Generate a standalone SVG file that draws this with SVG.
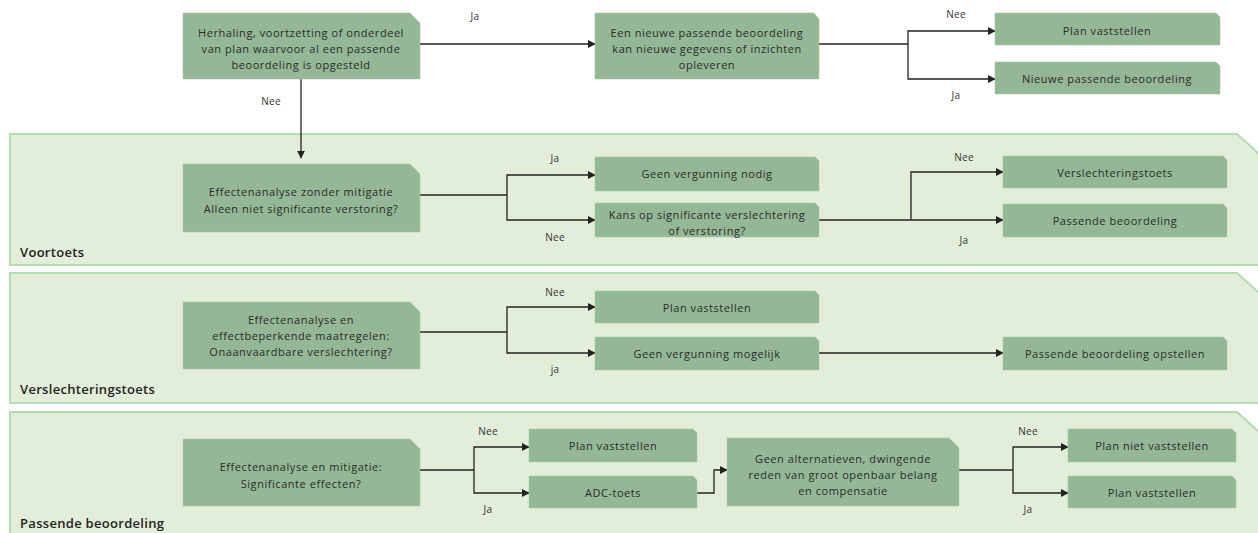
<svg xmlns="http://www.w3.org/2000/svg" width="1258" height="533" viewBox="0 0 1258 533">
  <defs>
    <marker id="arrow" viewBox="0 0 10 10" refX="9" refY="5" markerWidth="8" markerHeight="8" markerUnits="userSpaceOnUse" orient="auto">
      <path d="M0,0 L10,5 L0,10 z" fill="#222"/>
    </marker>
  </defs>
  <style>
    .lane { fill: #e2eed9; stroke: #b3dcb0; stroke-width: 2; }
    .lane-title { font-family: "Open Sans", "Noto Sans", sans-serif; font-size: 13px; font-weight: 600; letter-spacing: 0.3px; fill: #222; }
    .box { fill: #94b896; stroke: #a6c7a7; stroke-width: 0.6; }
    .txt { font-family: "Open Sans", "Noto Sans", sans-serif; font-size: 11px; letter-spacing: 0.55px; fill: #2b2b2b; text-anchor: middle; }
    .lbl { font-family: "Open Sans", "Noto Sans", sans-serif; font-size: 10px; letter-spacing: 0.3px; fill: #333; text-anchor: middle; }
    .wire { fill: none; stroke: #222; stroke-width: 1.3; }
    .arr { marker-end: url(#arrow); }
  </style>

  <rect width="1258" height="533" fill="#ffffff"/>

  <!-- swimlanes -->
  <g id="lane-voortoets">
    <path class="lane" d="M10,134 H1237 L1266,160 V265 H10 Z"/>
    <text class="lane-title" x="20" y="257">Voortoets</text>
  </g>
  <g id="lane-verslechteringstoets">
    <path class="lane" d="M10,273 H1237 L1266,299 V403 H10 Z"/>
    <text class="lane-title" x="20" y="394">Verslechteringstoets</text>
  </g>
  <g id="lane-passende-beoordeling">
    <path class="lane" d="M10,412 H1237 L1266,438 V545 H10 Z"/>
    <text class="lane-title" x="20" y="528">Passende beoordeling</text>
  </g>

  <!-- connectors -->
  <g id="connectors">
    <path class="wire arr" d="M420,44 H595"/>
    <path class="wire arr" d="M301,79 V158"/>
    <path class="wire" d="M819,44 H908"/>
    <path class="wire arr" d="M908,44 V31 H995"/>
    <path class="wire arr" d="M908,44 V79 H995"/>

    <path class="wire" d="M420,195 H507"/>
    <path class="wire arr" d="M507,195 V175 H595"/>
    <path class="wire arr" d="M507,195 V220 H595"/>
    <path class="wire" d="M819,220 H911"/>
    <path class="wire arr" d="M911,220 V172 H1003"/>
    <path class="wire arr" d="M911,220 H1003"/>

    <path class="wire" d="M420,332 H507"/>
    <path class="wire arr" d="M507,332 V307 H595"/>
    <path class="wire arr" d="M507,332 V353 H595"/>
    <path class="wire arr" d="M819,353 H1003"/>

    <path class="wire" d="M420,470 H474"/>
    <path class="wire arr" d="M474,470 V447 H529"/>
    <path class="wire arr" d="M474,470 V493 H529"/>
    <path class="wire arr" d="M697,493 H714 V470 H727"/>
    <path class="wire" d="M959,470 H1013"/>
    <path class="wire arr" d="M1013,470 V447 H1068"/>
    <path class="wire arr" d="M1013,470 V493 H1068"/>

    <text class="lbl" x="475" y="20">Ja</text>
    <text class="lbl" x="271" y="105">Nee</text>
    <text class="lbl" x="956" y="18">Nee</text>
    <text class="lbl" x="956" y="99">Ja</text>
    <text class="lbl" x="555" y="162">Ja</text>
    <text class="lbl" x="555" y="241">Nee</text>
    <text class="lbl" x="964" y="161">Nee</text>
    <text class="lbl" x="964" y="244">Ja</text>
    <text class="lbl" x="555" y="296">Nee</text>
    <text class="lbl" x="555" y="373">ja</text>
    <text class="lbl" x="488" y="435">Nee</text>
    <text class="lbl" x="488" y="513">Ja</text>
    <text class="lbl" x="1028" y="435">Nee</text>
    <text class="lbl" x="1028" y="513">Ja</text>
  </g>

  <!-- top row -->
  <g id="n-herhaling">
    <path class="box" d="M183,13 H410 L420,23 V79 H183 Z"/>
    <text class="txt" x="301" y="37">Herhaling, voortzetting of onderdeel</text>
    <text class="txt" x="301" y="53">van plan waarvoor al een passende</text>
    <text class="txt" x="301" y="69">beoordeling is opgesteld</text>
  </g>
  <g id="n-nieuwe-gegevens">
    <path class="box" d="M595,13 H814 L819,19 V79 H595 Z"/>
    <text class="txt" x="707" y="37">Een nieuwe passende beoordeling</text>
    <text class="txt" x="707" y="53">kan nieuwe gegevens of inzichten</text>
    <text class="txt" x="707" y="69">opleveren</text>
  </g>
  <g id="n-plan-vaststellen-1">
    <path class="box" d="M995,13 H1216 L1220,17 V45 H995 Z"/>
    <text class="txt" x="1107" y="35">Plan vaststellen</text>
  </g>
  <g id="n-nieuwe-pb">
    <path class="box" d="M995,62 H1216 L1220,66 V94 H995 Z"/>
    <text class="txt" x="1107" y="83">Nieuwe passende beoordeling</text>
  </g>

  <!-- voortoets -->
  <g id="n-effecten-zonder">
    <path class="box" d="M183,164 H410 L420,174 V232 H183 Z"/>
    <text class="txt" x="301" y="196">Effectenanalyse zonder mitigatie</text>
    <text class="txt" x="301" y="213">Alleen niet significante verstoring?</text>
  </g>
  <g id="n-geen-vergunning-nodig">
    <path class="box" d="M595,157 H815 L819,161 V191 H595 Z"/>
    <text class="txt" x="707" y="178">Geen vergunning nodig</text>
  </g>
  <g id="n-kans-op">
    <path class="box" d="M595,203 H815 L819,207 V237 H595 Z"/>
    <text class="txt" x="707" y="219">Kans op significante verslechtering</text>
    <text class="txt" x="707" y="235">of verstoring?</text>
  </g>
  <g id="n-verslechteringstoets">
    <path class="box" d="M1003,156 H1223 L1227,160 V188 H1003 Z"/>
    <text class="txt" x="1115" y="177">Verslechteringstoets</text>
  </g>
  <g id="n-passende-beoordeling">
    <path class="box" d="M1003,204 H1223 L1227,208 V237 H1003 Z"/>
    <text class="txt" x="1115" y="225">Passende beoordeling</text>
  </g>

  <!-- verslechteringstoets -->
  <g id="n-effecten-maatregelen">
    <path class="box" d="M183,302 H410 L420,312 V369 H183 Z"/>
    <text class="txt" x="301" y="324">Effectenanalyse en</text>
    <text class="txt" x="301" y="340">effectbeperkende maatregelen:</text>
    <text class="txt" x="301" y="356">Onaanvaardbare verslechtering?</text>
  </g>
  <g id="n-plan-vaststellen-2">
    <path class="box" d="M595,291 H815 L819,295 V323 H595 Z"/>
    <text class="txt" x="707" y="312">Plan vaststellen</text>
  </g>
  <g id="n-geen-vergunning-mogelijk">
    <path class="box" d="M595,337 H815 L819,341 V370 H595 Z"/>
    <text class="txt" x="707" y="358">Geen vergunning mogelijk</text>
  </g>
  <g id="n-pb-opstellen">
    <path class="box" d="M1003,337 H1223 L1227,341 V370 H1003 Z"/>
    <text class="txt" x="1115" y="358">Passende beoordeling opstellen</text>
  </g>

  <!-- passende beoordeling -->
  <g id="n-effecten-mitigatie">
    <path class="box" d="M183,439 H410 L420,449 V506 H183 Z"/>
    <text class="txt" x="301" y="471">Effectenanalyse en mitigatie:</text>
    <text class="txt" x="301" y="488">Significante effecten?</text>
  </g>
  <g id="n-plan-vaststellen-3">
    <path class="box" d="M529,429 H693 L697,433 V462 H529 Z"/>
    <text class="txt" x="613" y="450">Plan vaststellen</text>
  </g>
  <g id="n-adc-toets">
    <path class="box" d="M529,476 H693 L697,480 V508 H529 Z"/>
    <text class="txt" x="613" y="497">ADC-toets</text>
  </g>
  <g id="n-geen-alternatieven">
    <path class="box" d="M727,438 H949 L959,448 V506 H727 Z"/>
    <text class="txt" x="843" y="463">Geen alternatieven, dwingende</text>
    <text class="txt" x="843" y="479">reden van groot openbaar belang</text>
    <text class="txt" x="843" y="495">en compensatie</text>
  </g>
  <g id="n-plan-niet-vaststellen">
    <path class="box" d="M1068,429 H1232 L1236,433 V462 H1068 Z"/>
    <text class="txt" x="1152" y="450">Plan niet vaststellen</text>
  </g>
  <g id="n-plan-vaststellen-4">
    <path class="box" d="M1068,476 H1232 L1236,480 V508 H1068 Z"/>
    <text class="txt" x="1152" y="497">Plan vaststellen</text>
  </g>
</svg>
